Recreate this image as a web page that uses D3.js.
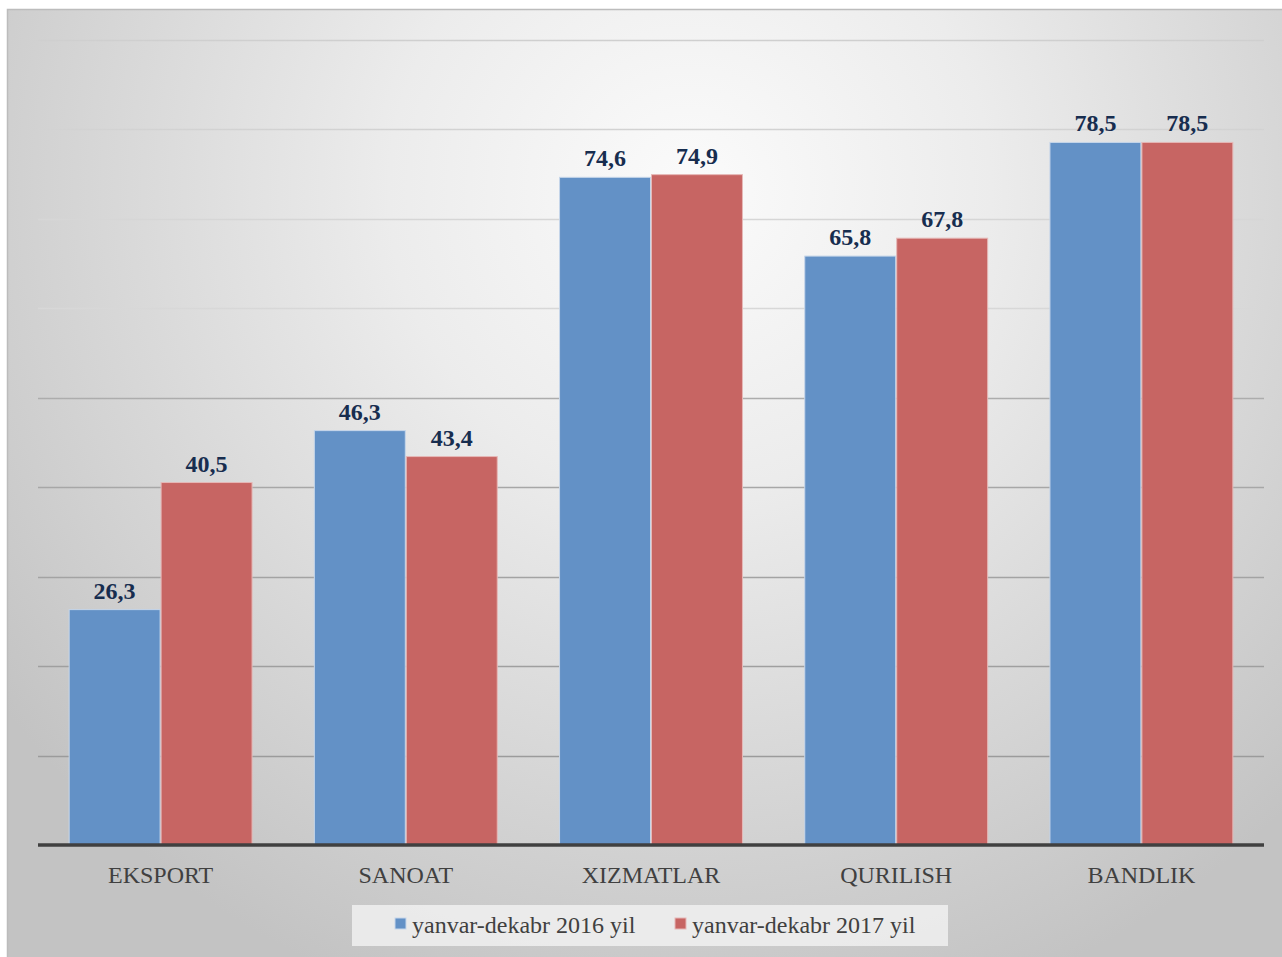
<!DOCTYPE html>
<html>
<head>
<meta charset="utf-8">
<script src="https://cdn.jsdelivr.net/npm/d3@7/dist/d3.min.js"></script>
<style>
  html, body { margin: 0; padding: 0; background: #ffffff; }
  svg { display: block; }
</style>
</head>
<body>
<svg id="chart" width="1282" height="957"></svg>
<script>
const categories = ["EKSPORT", "SANOAT", "XIZMATLAR", "QURILISH", "BANDLIK"];
const seriesNames = ["yanvar-dekabr 2016 yil", "yanvar-dekabr 2017 yil"];
const values2016 = [26.3, 46.3, 74.6, 65.8, 78.5];
const values2017 = [40.5, 43.4, 74.9, 67.8, 78.5];
const gridTicks = [10, 20, 30, 40, 50, 60, 70, 80, 90];
const colors = ["#6391c6", "#c76563"];

const svg = d3.select("#chart");
const W = 1282, H = 957;
const plot = { left: 38, right: 1264, top: 39.5, bottom: 845 };

const defs = svg.append("defs");
const bg = defs.append("radialGradient").attr("id", "bg")
  .attr("gradientUnits", "userSpaceOnUse")
  .attr("cx", 690).attr("cy", 190).attr("r", 860);
bg.append("stop").attr("offset", "0").attr("stop-color", "#fbfbfb");
bg.append("stop").attr("offset", "0.35").attr("stop-color", "#ececec");
bg.append("stop").attr("offset", "1").attr("stop-color", "#c3c3c3");

const gg = defs.append("linearGradient").attr("id", "gridg")
  .attr("gradientUnits", "userSpaceOnUse")
  .attr("x1", 0).attr("y1", plot.top).attr("x2", 0).attr("y2", plot.bottom);
gg.append("stop").attr("offset", "0").attr("stop-color", "#cfcfcf");
gg.append("stop").attr("offset", "0.33").attr("stop-color", "#d9d9d9");
gg.append("stop").attr("offset", "0.45").attr("stop-color", "#ababab");
gg.append("stop").attr("offset", "1").attr("stop-color", "#979797");

svg.append("rect").attr("x", 7.5).attr("y", 9.5).attr("width", W).attr("height", H)
  .attr("fill", "url(#bg)").attr("stroke", "#bcbcbc").attr("stroke-width", 1.5);

const y = d3.scaleLinear().domain([0, 90]).range([plot.bottom, plot.top]);
const x0 = d3.scaleBand().domain(categories).range([plot.left, plot.right])
  .paddingInner(0.25).paddingOuter(0.125);
const x1 = d3.scaleBand().domain([0, 1]).range([0, x0.bandwidth()]).padding(0);

// gridlines
svg.append("g").selectAll("line").data(gridTicks).join("line")
  .attr("x1", plot.left).attr("x2", plot.right)
  .attr("y1", d => Math.round(y(d)) + 0.5).attr("y2", d => Math.round(y(d)) + 0.5)
  .attr("stroke", "url(#gridg)").attr("stroke-width", 1.3);

const data = categories.map((c, i) => ({ c, vals: [values2016[i], values2017[i]] }));

const groups = svg.append("g").selectAll("g").data(data).join("g")
  .attr("transform", d => `translate(${x0(d.c)},0)`);

groups.selectAll("rect").data(d => d.vals.map((v, k) => ({ v, k }))).join("rect")
  .attr("x", d => x1(d.k) + 0.5)
  .attr("width", x1.bandwidth() - 1)
  .attr("y", d => y(d.v))
  .attr("height", d => plot.bottom - y(d.v))
  .attr("fill", d => colors[d.k])
  .attr("stroke", d => d.k === 0 ? "#c6d6ea" : "#e6b8b7")
  .attr("stroke-width", 1);

groups.selectAll("text").data(d => d.vals.map((v, k) => ({ v, k }))).join("text")
  .attr("x", d => x1(d.k) + x1.bandwidth() / 2)
  .attr("y", d => y(d.v) - 11)
  .attr("text-anchor", "middle")
  .attr("font-family", "'Liberation Serif', 'Times New Roman', serif")
  .attr("font-weight", "bold")
  .attr("font-size", 24)
  .attr("fill", "#172d4f")
  .text(d => d.v.toFixed(1).replace(".", ","));

// baseline axis
const xAxis = d3.axisBottom(x0).tickSize(0).tickPadding(0);
const ax = svg.append("g").attr("transform", `translate(0,${plot.bottom})`).call(xAxis);
ax.select(".domain").attr("stroke", "#404040").attr("stroke-width", 3.5)
  .attr("d", `M${plot.left},0H${plot.right}`);
ax.selectAll("text")
  .attr("dy", 0).attr("y", 38)
  .attr("font-family", "'Liberation Serif', 'Times New Roman', serif")
  .attr("font-size", 24).attr("fill", "#404040");

// legend
const lg = svg.append("g");
lg.append("rect").attr("x", 352).attr("y", 905).attr("width", 596).attr("height", 41)
  .attr("fill", "#f3f3f3").attr("fill-opacity", 0.8);
const legendX = [395, 675];
seriesNames.forEach((name, k) => {
  lg.append("rect").attr("x", legendX[k]).attr("y", 918).attr("width", 11).attr("height", 11)
    .attr("fill", colors[k]).attr("stroke", k === 0 ? "#c6d6ea" : "#e6b8b7").attr("stroke-width", 1);
  lg.append("text").attr("x", legendX[k] + 17).attr("y", 933)
    .attr("font-family", "'Liberation Serif', 'Times New Roman', serif")
    .attr("font-size", 24).attr("fill", "#404040").text(name);
});
</script>
</body>
</html>
